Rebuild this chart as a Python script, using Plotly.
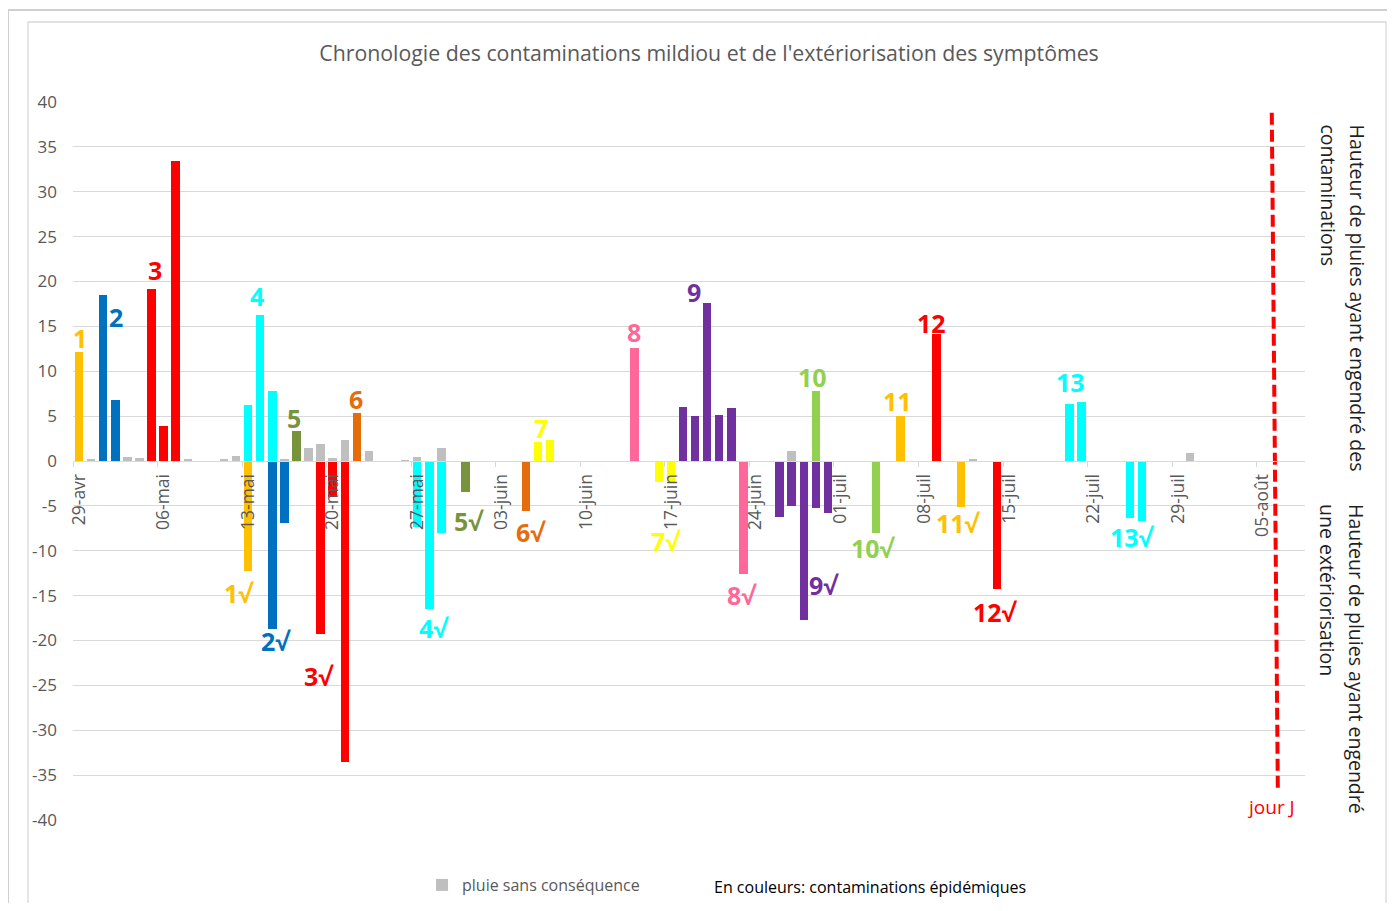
import plotly.graph_objects as go
import pandas as pd

# ---------------- data ----------------
YEAR = 2019
START = pd.Timestamp(f"{YEAR}-04-29")

tick_dates = ["04-29", "05-06", "05-13", "05-20", "05-27", "06-03", "06-10", "06-17",
              "06-24", "07-01", "07-08", "07-15", "07-22", "07-29", "08-05"]
tick_labels = ["29-avr", "06-mai", "13-mai", "20-mai", "27-mai", "03-juin", "10-juin", "17-juin",
               "24-juin", "01-juil", "08-juil", "15-juil", "22-juil", "29-juil", "05-août"]
y_ticks = list(range(-40, 41, 5))
y_tick_labels = [str(v) for v in y_ticks]

series_names = ["1", "2", "3", "4", "5", "6", "7", "8", "9", "10", "11", "12", "13"]
series_colors = ["#FFC000", "#0070C0", "#FF0000", "#00FFFF", "#77933C", "#E46C0A", "#FFFF00",
                 "#FF6699", "#7030A0", "#92D050", "#FFC000", "#FF0000", "#00FFFF"]

# rain that caused contaminations (positive bars)
contam_dates = [["04-29"], ["05-01", "05-02"], ["05-05", "05-06", "05-07"],
                ["05-13", "05-14", "05-15"], ["05-17"], ["05-22"], ["06-06", "06-07"],
                ["06-14"], ["06-18", "06-19", "06-20", "06-21", "06-22"], ["06-29"],
                ["07-06"], ["07-09"], ["07-20", "07-21"]]
contam_values = [[12.2], [18.5, 6.8], [19.2, 3.9, 33.4],
                 [6.2, 16.3, 7.8], [3.3], [5.3], [2.1, 2.3],
                 [12.6], [6.0, 5.0, 17.6, 5.1, 5.9], [7.8],
                 [5.0], [14.2], [6.3, 6.6]]

# rain that caused symptom expression (negative bars)
ext_dates = [["05-13"], ["05-15", "05-16"], ["05-19", "05-20", "05-21"],
             ["05-27", "05-28", "05-29"], ["05-31"], ["06-05"], ["06-16", "06-17"],
             ["06-23"], ["06-26", "06-27", "06-28", "06-29", "06-30"], ["07-04"],
             ["07-11"], ["07-14"], ["07-25", "07-26"]]
ext_values = [[-12.3], [-18.7, -6.9], [-19.3, -4.0, -33.5],
              [-7.4, -16.5, -8.0], [-3.5], [-5.6], [-2.3, -2.3],
              [-12.6], [-6.2, -5.05, -17.7, -5.2, -5.8], [-8.0],
              [-5.1], [-14.3], [-6.4, -6.7]]

# rain without consequence (grey)
gray_dates = ["04-30", "05-03", "05-04", "05-08", "05-11", "05-12", "05-16", "05-18", "05-19",
              "05-20", "05-21", "05-23", "05-26", "05-27", "05-29", "06-27", "07-12", "07-30"]
gray_values = [0.2, 0.5, 0.3, 0.15, 0.15, 0.6, 0.2, 1.5, 1.9,
               0.3, 2.3, 1.1, 0.1, 0.45, 1.5, 1.15, 0.2, 0.9]

jour_j_date = "08-06"
jour_j_top, jour_j_bottom = 38.8, -36.4

# label anchor positions (day offset, value)
contam_label_pos = [(0.05, 13.7), (3.1, 16.0), (6.25, 21.3), (14.75, 18.4), (17.8, 4.8),
                    (22.9, 6.9), (38.25, 3.7), (45.95, 14.4), (50.9, 18.8), (60.75, 9.4),
                    (67.75, 6.7), (70.55, 15.4), (82.05, 8.75)]
ext_label_pos = [(13.25, -14.7), (16.3, -20.05), (19.85, -23.95), (29.35, -18.65),
                 (32.3, -6.65), (37.4, -7.95), (48.6, -8.95), (54.9, -14.9), (61.65, -13.8),
                 (65.8, -9.65), (72.85, -6.95), (75.9, -16.8), (87.2, -8.45)]

right_title_top = ["Hauteur de pluies ayant engendré des", "contaminations"]
right_title_bottom = ["Hauteur de pluies ayant engendré", "une extériorisation"]


def day(md):
    return (pd.Timestamp(f"{YEAR}-{md}") - START).days


# ---------------- layout geometry ----------------
OFF = 8
FIG_W, FIG_H = 1379, 895
ML, MT, MR, MB = 65, 94, 82, 83
PW, PH = FIG_W - ML - MR, FIG_H - MT - MB


def px(sx):
    return (sx - OFF - ML) / PW


def py(sy):
    return 1 - (sy - OFF - MT) / PH


def cx(sx):
    return (sx - OFF) / FIG_W


def cy(sy):
    return 1 - (sy - OFF) / FIG_H


BAR_W = 0.7
FONT = "Open Sans"
GREY_TXT = "#595959"
GRID = "#D9D9D9"

fig = go.Figure()

fig.add_trace(go.Bar(x=[day(d) for d in gray_dates], y=gray_values, width=BAR_W,
                     marker=dict(color="#BFBFBF", line=dict(width=0)),
                     name="pluie sans conséquence", showlegend=True))

for name, col, ds, vs in zip(series_names, series_colors, contam_dates, contam_values):
    fig.add_trace(go.Bar(x=[day(d) for d in ds], y=vs, width=BAR_W,
                         marker=dict(color=col, line=dict(width=0)),
                         name=name, showlegend=False))
for name, col, ds, vs in zip(series_names, series_colors, ext_dates, ext_values):
    fig.add_trace(go.Bar(x=[day(d) for d in ds], y=vs, width=BAR_W,
                         marker=dict(color=col, line=dict(width=0)),
                         name=name + "√", showlegend=False))

jd = day(jour_j_date)
fig.add_trace(go.Scatter(x=[jd - 0.25, jd + 0.25], y=[jour_j_top, jour_j_bottom], mode="lines",
                         line=dict(color="#FF0000", width=4, dash="12px,5px"),
                         showlegend=False, hoverinfo="skip"))

annotations = []
for name, col, (lx, ly) in zip(series_names, series_colors, contam_label_pos):
    annotations.append(dict(x=lx, y=ly, xref="x", yref="y", text=f"<b>{name}</b>",
                            showarrow=False, font=dict(family=FONT, size=25, color=col)))
for name, col, (lx, ly) in zip(series_names, series_colors, ext_label_pos):
    annotations.append(dict(x=lx, y=ly, xref="x", yref="y", text=f"<b>{name}√</b>",
                            showarrow=False, font=dict(family=FONT, size=25, color=col)))

annotations.append(dict(x=jd - 0.35, y=-38.5, xref="x", yref="y", text="jour J",
                        showarrow=False, font=dict(family=FONT, size=19, color="#FF0000")))

# right-hand rotated titles, one annotation per line
for lines, top in ((right_title_top, 122), (right_title_bottom, 502)):
    for line, sx in zip(lines, (1357, 1328)):
        annotations.append(dict(x=px(sx), y=py(top), xref="paper", yref="paper",
                                text=line, textangle=90, xanchor="center", yanchor="top",
                                showarrow=False,
                                font=dict(family=FONT, size=19.5, color="#1F1F1F")))

annotations.append(dict(x=px(712), y=py(887), xref="paper", yref="paper",
                        text="En couleurs: contaminations épidémiques",
                        xanchor="left", yanchor="middle", showarrow=False,
                        font=dict(family=FONT, size=16, color="#000000")))

shapes = [
    dict(type="path", xref="paper", yref="paper",
         path=f"M {px(8)} {py(960)} L {px(8)} {py(10)} L {px(1420)} {py(10)}",
         line=dict(color="#D0D0D0", width=2)),
    dict(type="path", xref="paper", yref="paper",
         path=f"M {px(28)} {py(960)} L {px(28)} {py(22)} L {px(1386)} {py(22)} L {px(1386)} {py(960)}",
         line=dict(color="#D9D9D9", width=1.3)),
]

fig.update_layout(
    width=FIG_W, height=FIG_H,
    margin=dict(l=ML, r=MR, t=MT, b=MB, autoexpand=False),
    paper_bgcolor="white", plot_bgcolor="white",
    barmode="overlay", bargap=0,
    font=dict(family=FONT, color=GREY_TXT),
    title=dict(text="Chronologie des contaminations mildiou et de l'extériorisation des symptômes",
               x=cx(709), xanchor="center", y=cy(54), yanchor="middle",
               xref="container", yref="container",
               font=dict(family=FONT, size=21.3, color=GREY_TXT)),
    xaxis=dict(range=[-0.5, 101.5], anchor="free", position=0.5,
               tickmode="array", tickvals=[day(d) - 0.5 for d in tick_dates], ticktext=tick_labels,
               ticklabelshift=6, tickangle=-90, ticks="outside", ticklen=5, tickcolor=GRID,
               showline=True, linecolor=GRID, linewidth=1, showgrid=False, zeroline=False,
               tickfont=dict(family=FONT, size=17.5, color=GREY_TXT)),
    yaxis=dict(range=[-40, 40], tickmode="array", tickvals=y_ticks, ticktext=y_tick_labels,
               showgrid=True, gridcolor=GRID, gridwidth=1, zeroline=False, showline=False,
               ticks="", ticklabelstandoff=15,
               tickfont=dict(family=FONT, size=17, color=GREY_TXT)),
    legend=dict(orientation="h", x=cx(422), y=cy(885), xref="container", yref="container",
                xanchor="left", yanchor="middle",
                font=dict(family=FONT, size=16, color=GREY_TXT), bgcolor="rgba(0,0,0,0)"),
    annotations=annotations,
    shapes=shapes,
)

fig.write_html("out.html")
